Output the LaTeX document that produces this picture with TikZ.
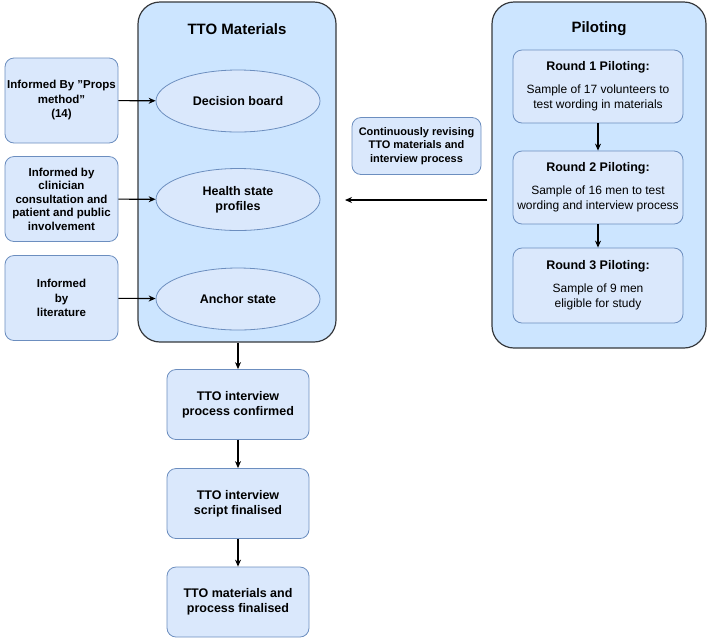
\documentclass[tikz,border=0pt]{standalone}
\usepackage{fontspec}
\setmainfont{Liberation Sans}
\usetikzlibrary{arrows.meta,shapes.geometric}
\definecolor{contfill}{HTML}{CCE5FF}
\definecolor{contline}{HTML}{36393D}
\definecolor{boxfill}{HTML}{DAE8FC}
\definecolor{boxline}{HTML}{6C8EBF}
\begin{document}
\begin{tikzpicture}[x=1pt,y=-1pt,
  container/.style={draw=contline,fill=contfill,rounded corners=22pt,line width=1.2pt,inner sep=0pt},
  infobox/.style={draw=boxline,fill=boxfill,rounded corners=9pt,line width=0.8pt,inner sep=0pt,align=center},
  oval/.style={ellipse,draw=boxline,fill=boxfill,line width=0.8pt,inner sep=0pt,align=center,
    minimum width=164pt,minimum height=62pt,font=\fontsize{12.5}{15}\selectfont\bfseries},
  arr/.style={-{Stealth[length=7pt,width=6pt]},line width=1.1pt,black}]
  \useasboundingbox (0,0) rectangle (708,641);
  \tikzstyle{every node}+=[inner sep=0pt]
  \node [container,minimum width=198pt,minimum height=340pt] (tto) at (237,172) {};
  \node [font=\fontsize{15}{18}\selectfont\bfseries] (ttotitle) at (237,29) {TTO Materials};
  \node [container,minimum width=214pt,minimum height=346pt] (pilot) at (599,175) {};
  \node [font=\fontsize{15}{18}\selectfont\bfseries] (pilottitle) at (599,29) {Piloting};
  \node [infobox,minimum width=113pt,minimum height=85pt,font=\fontsize{11.5}{14.5}\selectfont\bfseries] (props) at (61.5,100.5) {Informed By \symbol{34}Props\\method\symbol{34}\\(14)};
  \node [infobox,minimum width=113pt,minimum height=85pt,font=\fontsize{11.5}{13.5}\selectfont\bfseries] (clin) at (61.5,199) {Informed by\\clinician\\consultation and\\patient and public\\involvement};
  \node [infobox,minimum width=113pt,minimum height=85pt,font=\fontsize{11.5}{14.5}\selectfont\bfseries] (lit) at (61.5,298) {Informed\\by\\literature};
  \node [oval] (board) at (238,101) {Decision board};
  \node [oval] (hs) at (238,199.5) {Health state\\profiles};
  \node [oval] (anchor) at (238,299) {Anchor state};
  \node [infobox,minimum width=129pt,minimum height=57pt,font=\fontsize{11}{13.5}\selectfont\bfseries] (revise) at (416.5,146) {Continuously revising\\TTO materials and\\interview process};
  \node [infobox,minimum width=170pt,minimum height=73pt,font=\fontsize{12}{15}\selectfont] (r1) at (598,86.5) {\fontsize{12.5}{15}\selectfont\bfseries Round 1 Piloting:\\[8pt]Sample of 17 volunteers to\\test wording in materials};
  \node [infobox,minimum width=170pt,minimum height=73pt,font=\fontsize{12}{15}\selectfont] (r2) at (598,187.5) {\fontsize{12.5}{15}\selectfont\bfseries Round 2 Piloting:\\[8pt]Sample of 16 men to test\\wording and interview process};
  \node [infobox,minimum width=170pt,minimum height=75pt,font=\fontsize{12}{15}\selectfont] (r3) at (598,285.5) {\fontsize{12.5}{15}\selectfont\bfseries Round 3 Piloting:\\[8pt]Sample of 9 men\\eligible for study};
  \node [infobox,minimum width=142pt,minimum height=70pt,font=\fontsize{12.5}{15}\selectfont\bfseries] (confirm) at (238,404.5) {TTO interview\\process confirmed};
  \node [infobox,minimum width=142pt,minimum height=70pt,font=\fontsize{12.5}{15}\selectfont\bfseries] (script) at (238,503.5) {TTO interview\\script finalised};
  \node [infobox,minimum width=142pt,minimum height=70pt,font=\fontsize{12.5}{15}\selectfont\bfseries] (final) at (238,602) {TTO materials and\\process finalised};
  \coordinate (revend) at (345,200);
  \draw [arr] (props) -- (board);
  \draw [arr] (clin) -- (hs);
  \draw [arr] (lit) -- (anchor);
  \draw [arr] (r1) -- (r2);
  \draw [arr] (r2) -- (r3);
  \draw [arr] ([xshift=-4pt]pilot.west |- revend) -- (revend);
  \draw [arr] (tto.south -| confirm) -- (confirm);
  \draw [arr] (confirm) -- (script);
  \draw [arr] (script) -- (final);
\end{tikzpicture}
\end{document}
